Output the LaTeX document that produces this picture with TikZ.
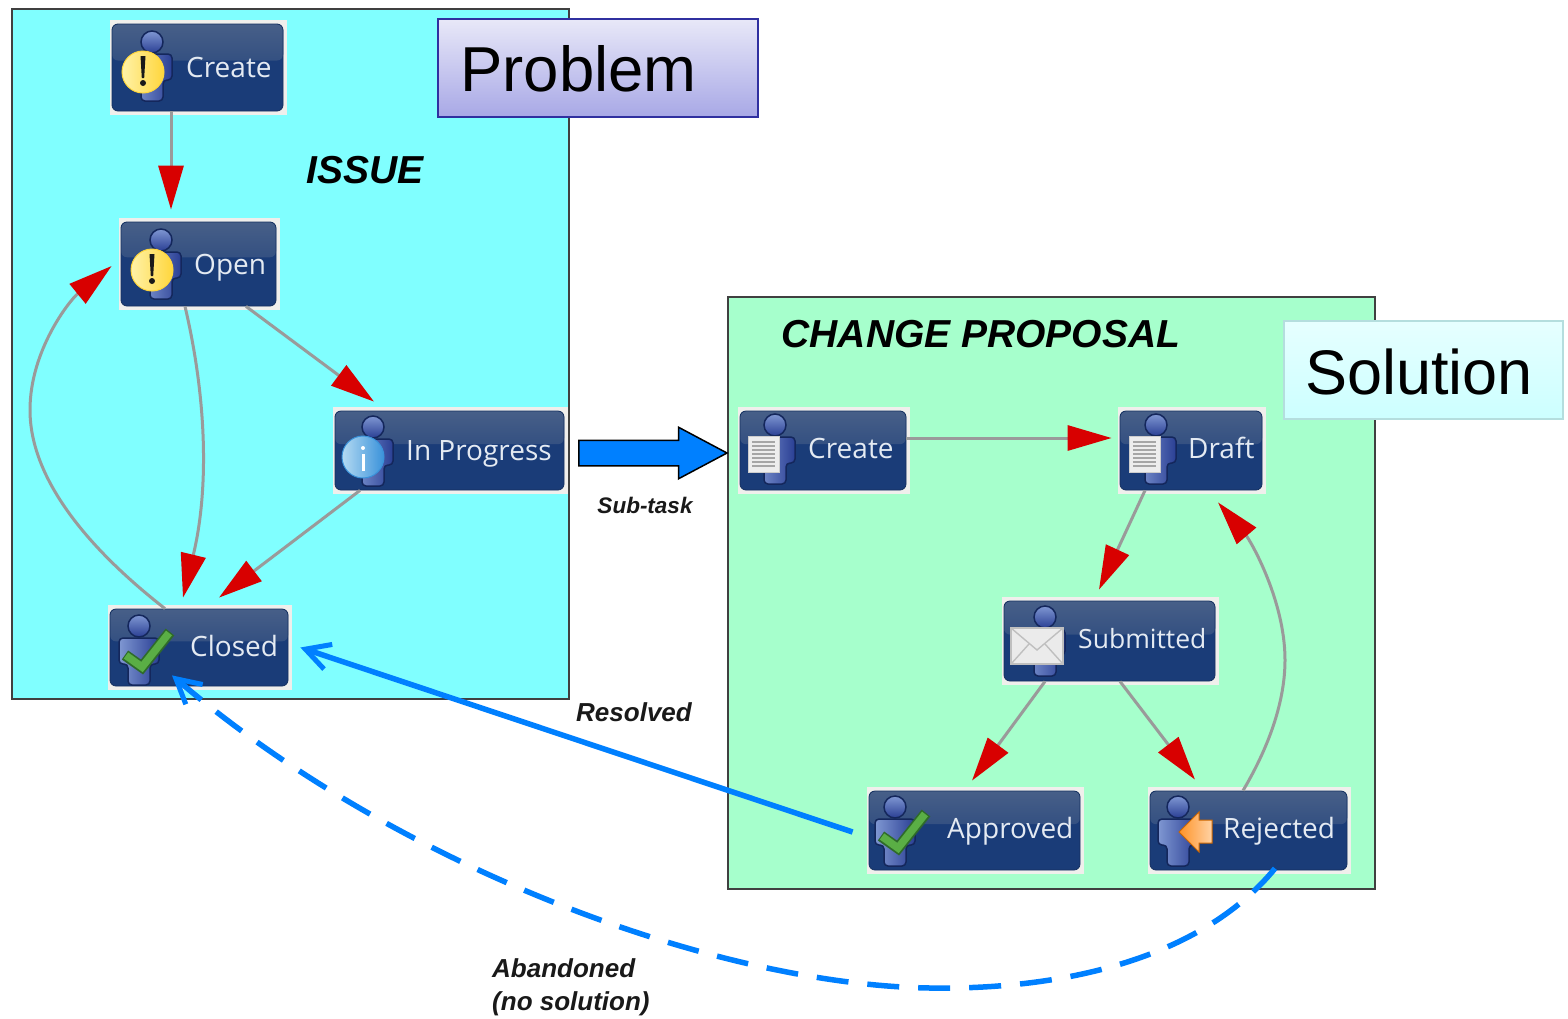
\documentclass[tikz,border=0pt]{standalone}
\usepackage{fontspec}
\setmainfont{Liberation Sans}
\newfontfamily\statefont{Open Sans}
\usetikzlibrary{arrows.meta,shapes.arrows,calc}
\definecolor{cyanbg}{HTML}{80FFFF}
\definecolor{greenbg}{HTML}{A6FFCC}
\definecolor{navy}{HTML}{1A3C78}
\definecolor{navytop}{HTML}{475F88}
\definecolor{haloc}{HTML}{F0EFEC}
\definecolor{linegray}{HTML}{9A9A9A}
\definecolor{redtip}{HTML}{D80000}
\definecolor{flowblue}{HTML}{0080FF}
\definecolor{labelc}{HTML}{E4EAF2}
\definecolor{persona}{HTML}{7F97D2}
\definecolor{personb}{HTML}{2A3F94}
\definecolor{personline}{HTML}{14275C}
\definecolor{warna}{HTML}{FFF2A8}
\definecolor{warnb}{HTML}{FFD63C}
\definecolor{checka}{HTML}{5AAE45}
\definecolor{checkb}{HTML}{2F6B2A}
\definecolor{infoa}{HTML}{B4DAF2}
\definecolor{infob}{HTML}{3A92DA}
\tikzset{
  x=1pt,y=-1pt,
  container/.style={draw=black!75,line width=2pt},
  haloshape/.style={fill=haloc,draw=none},
  state/.style={draw=navy!80!black,line width=0.8pt,fill=navy,rounded corners=6pt,inner sep=0pt,
    path picture={\fill[top color=navytop,bottom color=navy] (path picture bounding box.north west) rectangle ($(path picture bounding box.north east)!0.42!(path picture bounding box.south east)$);}},
  statelabel/.style={anchor=west,text=labelc,inner sep=0pt,text height=21pt,text depth=0pt,font=\statefont\fontsize{28}{30}\selectfont},
  flow/.style={draw=linegray,line width=3pt,-{Triangle[length=44pt,width=25pt,fill=redtip,color=redtip]}},
  bluesolid/.style={draw=flowblue,line width=5.5pt,-{Straight Barb[length=24pt,width=26pt,line width=5pt,color=flowblue]}},
  bluedash/.style={bluesolid,dash pattern=on 32pt off 19pt},
  tag/.style={anchor=center,inner sep=0pt,text=black,font=\bfseries\itshape\fontsize{39}{42}\selectfont},
  small/.style={anchor=center,inner sep=0pt,text=black!90,font=\bfseries\itshape\fontsize{26}{33}\selectfont,align=left},
  titlebox/.style={anchor=west,inner sep=0pt,text=black},
}
\newcommand{\stnode}[5]{%
  \pgfmathsetmacro{\cxx}{(#2+#4)/2}\pgfmathsetmacro{\cyy}{(#3+#5)/2}%
  \pgfmathsetmacro{\wdd}{#4-#2}\pgfmathsetmacro{\htt}{#5-#3}%
  \path[haloshape] (#2-2.5,#3-4) rectangle (#4+4,#5+4);%
  \node[state,minimum width=\wdd pt,minimum height=\htt pt] (#1) at (\cxx,\cyy) {};}
\newcommand{\person}[2]{%
  \begin{scope}[shift={(#1,#2)}]
    \path[draw=personline,line width=1.5pt,left color=persona,right color=personb,rounded corners=4pt]
      (-20,12) -- (20,12) -- (20,38) -- (11,38) -- (11,59) -- (-11,59) -- (-11,38) -- (-20,38) -- cycle;
    \path[draw=personline,line width=1.5pt,top color=persona,bottom color=personb] (0,0) circle (11);
  \end{scope}}
\newcommand{\warnbadge}[2]{%
  \begin{scope}[shift={(#1,#2)}]
    \path[draw=warnb,line width=1pt,left color=warna,right color=warnb] (-9,30) circle (21);
    \fill[black!90] (-11.5,14) -- (-6.5,14) -- (-7.8,36) -- (-10.2,36) -- cycle;
    \fill[black!90] (-9,41) circle (3);
  \end{scope}}
\newcommand{\infobadge}[2]{%
  \begin{scope}[shift={(#1,#2)}]
    \path[draw=infob,line width=1pt,left color=infoa,right color=infob] (-10,30) circle (21);
    \fill[white] (-11.5,27) rectangle (-8.5,44);
    \fill[white] (-10,21) circle (2);
  \end{scope}}
\newcommand{\checkbadge}[2]{%
  \begin{scope}[shift={(#1,#2)}]
    \draw[draw=checkb,line width=11pt] (-14,29) -- (3,41) -- (31,6);
    \draw[draw=checka,line width=7.5pt] (-13,29.5) -- (3,41) -- (30,7);
  \end{scope}}
\newcommand{\docbadge}[2]{%
  \begin{scope}[shift={(#1,#2)}]
    \path[fill=white!93!black,draw=white!80!black,line width=1pt] (-27,11) rectangle (4,47);
    \foreach \yy in {17,21,25,29,33,37,41}{\draw[black!35,line width=1.4pt] (-23,\yy) -- (0,\yy);}
  \end{scope}}
\newcommand{\mailbadge}[2]{%
  \begin{scope}[shift={(#1,#2)}]
    \path[fill=white!92!black,draw=white!75!black,line width=1.2pt] (-34,11) rectangle (18,47);
    \draw[black!25,line width=1.4pt] (-34,11) -- (-8,33) -- (18,11);
    \draw[black!25,line width=1.4pt] (-34,47) -- (-16,27) (18,47) -- (0,27);
  \end{scope}}
\newcommand{\backbadge}[2]{%
  \begin{scope}[shift={(#1,#2)}]
    \path[draw=orange!80!black,line width=1pt,left color=orange!85,right color=orange!35]
      (1,25) -- (21,5) -- (21,13) -- (34,13) -- (34,36) -- (21,36) -- (21,45) -- cycle;
  \end{scope}}
\begin{document}
\begin{tikzpicture}
\useasboundingbox[fill=white] (0,0) rectangle (1568,1018);
% containers
\path[container,fill=cyanbg] (12,9) rectangle (569,699);
\path[container,fill=greenbg] (728,297) rectangle (1375,889);
% title boxes
\definecolor{pta}{HTML}{E8E8F8}\definecolor{ptb}{HTML}{A8A8E6}\definecolor{ptl}{HTML}{3030A0}
\path[draw=ptl,line width=2pt,top color=pta,bottom color=ptb] (438,19) rectangle (758,117);
\node[titlebox,font=\fontsize{63.5}{68}\selectfont] (problem) at (460,69) {Problem};
\definecolor{sta}{HTML}{E6FFFF}\definecolor{stb}{HTML}{CCFFFF}\definecolor{stl}{HTML}{B4DEDE}
\path[draw=stl,line width=1.5pt,top color=sta,bottom color=stb] (1284,321) rectangle (1563,419);
\node[titlebox,font=\fontsize{63}{68}\selectfont] (solution) at (1305,372) {Solution};
% states
\stnode{icreate}{112}{24}{283}{111}
\person{152}{42}\warnbadge{152}{42}
\node[statelabel] (icreatel) at (186,67) {Create};
\stnode{iopen}{121}{222}{276}{306}
\person{161}{240}\warnbadge{161}{240}
\node[statelabel] (iopenl) at (194,264) {Open};
\stnode{iprog}{335}{411}{564}{490}
\person{373}{427}\infobadge{373}{427}
\node[statelabel] (iprogl) at (406,450) {In Progress};
\stnode{iclosed}{110}{609}{288}{686}
\person{139}{626}\checkbadge{139}{626}
\node[statelabel] (iclosedl) at (190,646) {Closed};
\stnode{ccreate}{740}{411}{906}{490}
\person{775}{425}\docbadge{775}{425}
\node[statelabel] (ccreatel) at (808,448) {Create};
\stnode{cdraft}{1120}{411}{1262}{490}
\person{1156}{425}\docbadge{1156}{425}
\node[statelabel] (cdraftl) at (1188,448) {Draft};
\stnode{csub}{1004}{601}{1215}{681}
\person{1045}{617}\mailbadge{1045}{617}
\node[statelabel,font=\statefont\fontsize{26.5}{30}\selectfont] (csubl) at (1078,638) {Submitted};
\stnode{cappr}{869}{791}{1080}{870}
\person{895}{807}\checkbadge{895}{807}
\node[statelabel] (capprl) at (947,828) {Approved};
\stnode{crej}{1150}{791}{1347}{870}
\person{1178}{807}\backbadge{1178}{807}
\node[statelabel] (crejl) at (1223,828) {Rejected};
% grey workflow connectors
\draw[flow] ([xshift=-26.5pt]icreate.south) -- ([xshift=-27.5pt,yshift=12pt]iopen.north);
\draw[flow] ([xshift=47.5pt]iopen.south) -- ([xshift=-75.5pt,yshift=9pt]iprog.north);
\draw[flow] ([xshift=-13.5pt]iopen.south) .. controls (207,400) and (209,490) .. ([xshift=-16pt,yshift=11pt]iclosed.north);
\draw[flow] ([xshift=-34pt]iclosed.north) .. controls (90,550) and (30,480) .. (30,410) .. controls (30,350) and (70,300) .. ([xshift=-9pt,yshift=-2pt]iopen.west);
\draw[flow] ([xshift=-89.5pt]iprog.south) -- ([xshift=20pt,yshift=11pt]iclosed.north);
\draw[flow] ([yshift=12.5pt]ccreate.east) -- ([xshift=-8pt,yshift=12.5pt]cdraft.west);
\draw[flow] ([xshift=-46pt]cdraft.south) -- ([xshift=-10.5pt,yshift=11pt]csub.north);
\draw[flow] ([xshift=-64.5pt]csub.south) -- ([xshift=-2.5pt,yshift=10pt]cappr.north);
\draw[flow] ([xshift=10.5pt]csub.south) -- ([xshift=-53.5pt,yshift=11pt]crej.north);
\draw[flow] ([xshift=-5.5pt]crej.north) .. controls (1270,745) and (1285,700) .. (1285,660) .. controls (1285,600) and (1250,540) .. ([xshift=27pt,yshift=-12pt]cdraft.south);
% blue links
\node[single arrow,draw=black,line width=1.5pt,fill=flowblue,inner sep=0pt,minimum height=148pt,minimum width=50pt,single arrow head extend=13pt,single arrow head indent=0pt,single arrow tip angle=56] (subarrow) at (641,453) {\rule{0pt}{24pt}};
\draw[bluesolid] ([xshift=-16pt,yshift=-1.5pt]cappr.west) -- ([xshift=12pt]iclosed.east);
\draw[bluedash] ([xshift=26.5pt,yshift=2pt]crej.south) .. controls (1200,960) and (1060,990) .. (930,988) .. controls (720,985) and (400,870) .. ([xshift=-27pt,yshift=11pt]iclosed.south);
% labels
\node[tag] (issue) at (365,170) {ISSUE};
\node[tag] (cp) at (981,334) {CHANGE PROPOSAL};
\node[small,font=\bfseries\itshape\fontsize{22.5}{26}\selectfont] (subtask) at (645,505) {Sub-task};
\node[small] (resolved) at (634,712) {Resolved};
\node[small,anchor=north west] (abandoned) at (492,958) {Abandoned\\(no solution)};
\end{tikzpicture}
\end{document}
